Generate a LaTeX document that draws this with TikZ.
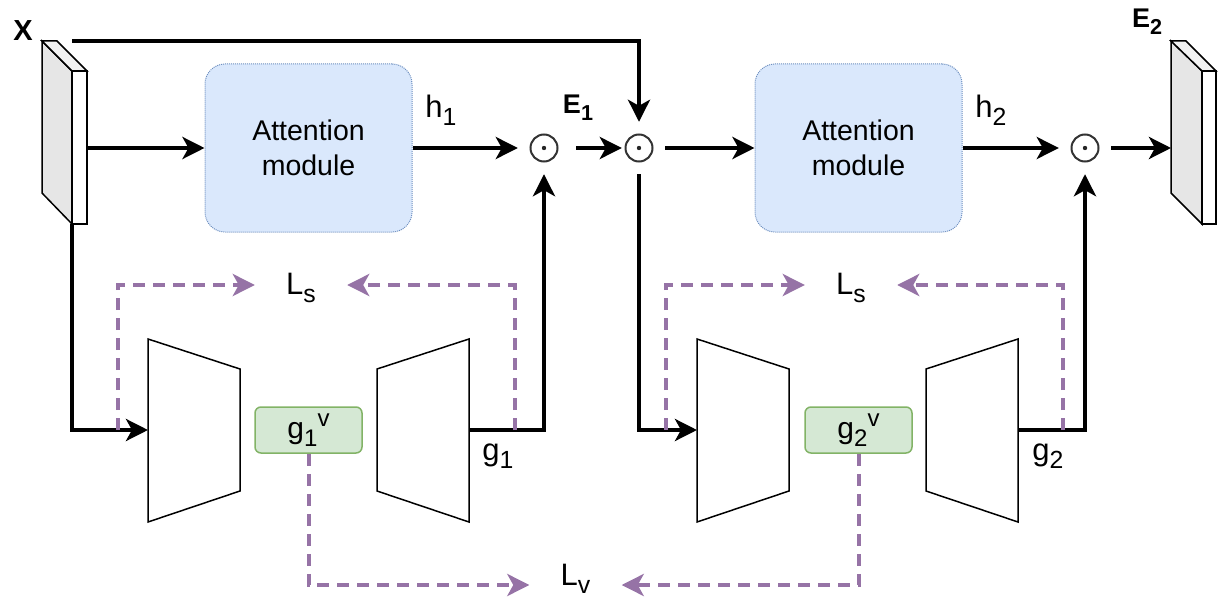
\documentclass[tikz,border=0pt]{standalone}
\usepackage{fontspec}
\setmainfont{Liberation Sans}
\usetikzlibrary{arrows.meta}
\definecolor{attfill}{HTML}{DAE8FC}
\definecolor{attdraw}{HTML}{6C8EBF}
\definecolor{gfill}{HTML}{D5E8D4}
\definecolor{gdraw}{HTML}{82B366}
\definecolor{lossc}{HTML}{9673A6}
\definecolor{slabg}{HTML}{E6E6E6}
\definecolor{slabt}{HTML}{F2F2F2}
\newcommand{\lo}[1]{\raisebox{-0.25em}{\scalebox{0.8}{#1}}}
\newcommand{\hi}[1]{\raisebox{0.42em}{\scalebox{0.8}{#1}}}
\begin{document}
\begin{tikzpicture}[x=1pt,y=-1pt,
  att/.style={draw=attdraw, densely dotted, line width=1pt, fill=attfill, rounded corners=20pt,
    minimum width=207pt, minimum height=168pt, align=center, font=\fontsize{28.5}{35}\selectfont},
  gbox/.style={draw=gdraw, line width=1.5pt, fill=gfill, rounded corners=6pt,
    minimum width=107pt, minimum height=46pt, inner sep=0pt, font=\fontsize{30}{34}\selectfont},
  odot/.style={circle, minimum size=52pt, inner sep=0pt},
  lbl/.style={font=\fontsize{31}{36}\selectfont, inner sep=0pt},
  loss/.style={lbl, minimum width=92pt},
  arr/.style={line width=4.2pt, -{Stealth[length=22pt,width=22pt,inset=6pt]}},
  lossarr/.style={draw=lossc, line width=4pt, dash pattern=on 12pt off 8pt,
    -{Stealth[length=22pt,width=22pt,inset=6pt,fill=lossc]}},
  outl/.style={draw=black, line width=1.5pt, line join=miter},
]
\useasboundingbox (0,0) rectangle (1219,599);

% input slab X
\filldraw[outl, fill=slabg] (42,41)--(72,71)--(72,224)--(42,193)--cycle;
\filldraw[outl, fill=slabt] (42,41)--(57,41)--(87,71)--(72,71)--cycle;
\filldraw[outl, fill=white] (72,71)--(87,71)--(87,224)--(72,224)--cycle;
\coordinate (xtop) at (72,41);
\coordinate (xright) at (87,148);
\coordinate (xbot) at (72,224);
\node[lbl, font=\fontsize{29}{34}\selectfont\bfseries] (xl) at (23,31) {X};

% output slab E2
\filldraw[outl, fill=slabg] (1171,41)--(1202,71)--(1202,224)--(1171,193)--cycle;
\filldraw[outl, fill=slabt] (1171,41)--(1186,41)--(1216,71)--(1202,71)--cycle;
\filldraw[outl, fill=white] (1202,71)--(1216,71)--(1216,224)--(1202,224)--cycle;
\coordinate (e2in) at (1171,148);
\node[lbl, font=\fontsize{27}{32}\selectfont\bfseries] (e2l) at (1147,22) {E\lo{2}};

% attention modules
\node[att] (att1) at (308.5,148) {Attention\\module};
\node[att] (att2) at (858.5,148) {Attention\\module};

% odot operators
\node[odot] (c1) at (544,148) {};
\node[odot] (c2) at (639,148) {};
\node[odot] (c3) at (1085,148) {};
\foreach \c in {c1,c2,c3}{
  \draw[line width=2pt, draw=black!80] (\c) circle (13.5pt);
  \fill[black!85] (\c) circle (2.2pt);
}

% encoder / decoder trapezoids
\filldraw[outl, fill=white] (148,339)--(240,369)--(240,491)--(148,522)--cycle;
\filldraw[outl, fill=white] (377,369)--(469,339)--(469,522)--(377,491)--cycle;
\filldraw[outl, fill=white] (697,339)--(789,369)--(789,491)--(697,522)--cycle;
\filldraw[outl, fill=white] (926,369)--(1018,339)--(1018,522)--(926,491)--cycle;
\coordinate (enc1w) at (148,430);
\coordinate (dec1e) at (469,430);
\coordinate (enc2w) at (697,430);
\coordinate (dec2e) at (1018,430);

% latent boxes
\node[gbox] (g1v) at (308.5,430) {g\lo{1}\hi{v}};
\node[gbox] (g2v) at (858.5,430) {g\lo{2}\hi{v}};

% labels
\node[lbl] (h1) at (441,110) {h\lo{1}};
\node[lbl] (h2) at (991,110) {h\lo{2}};
\node[lbl, font=\fontsize{27}{32}\selectfont\bfseries] (e1l) at (578,108) {E\lo{1}};
\node[lbl] (g1l) at (498,456) {g\lo{1}};
\node[lbl] (g2l) at (1048,456) {g\lo{2}};
\node[loss] (ls1) at (301,288) {L\lo{s}};
\node[loss] (ls2) at (851,288) {L\lo{s}};
\node[loss] (lv) at (575.5,579) {L\lo{v}};

% main connectors
\draw[arr] (xtop) -| (c2);
\draw[arr] (xright) -- (att1);
\draw[arr] (att1) -- (c1);
\draw[arr] ([xshift=6pt]c1.east) -- ([xshift=9pt]c2.west);
\draw[arr] (c2) -- (att2);
\draw[arr] (att2) -- (c3);
\draw[arr] (c3) -- (e2in);
\draw[arr] (xbot) |- (enc1w);
\draw[arr] (dec1e) -| (c1);
\draw[arr] (c2) |- (enc2w);
\draw[arr] (dec2e) -| (c3);

% loss connectors
\coordinate (s1a) at (118,430);
\coordinate (s1b) at (515,430);
\coordinate (s2a) at (666,430);
\coordinate (s2b) at (1063,430);
\draw[lossarr] (s1a) |- (ls1.west |- 0,285);
\draw[lossarr] (s1b) |- (ls1.east |- 0,285);
\draw[lossarr] (s2a) |- (ls2.west |- 0,285);
\draw[lossarr] (s2b) |- (ls2.east |- 0,285);
\draw[lossarr] (g1v.south) |- (lv.west |- 0,585);
\draw[lossarr] (g2v.south) |- (lv.east |- 0,585);
\end{tikzpicture}
\end{document}
